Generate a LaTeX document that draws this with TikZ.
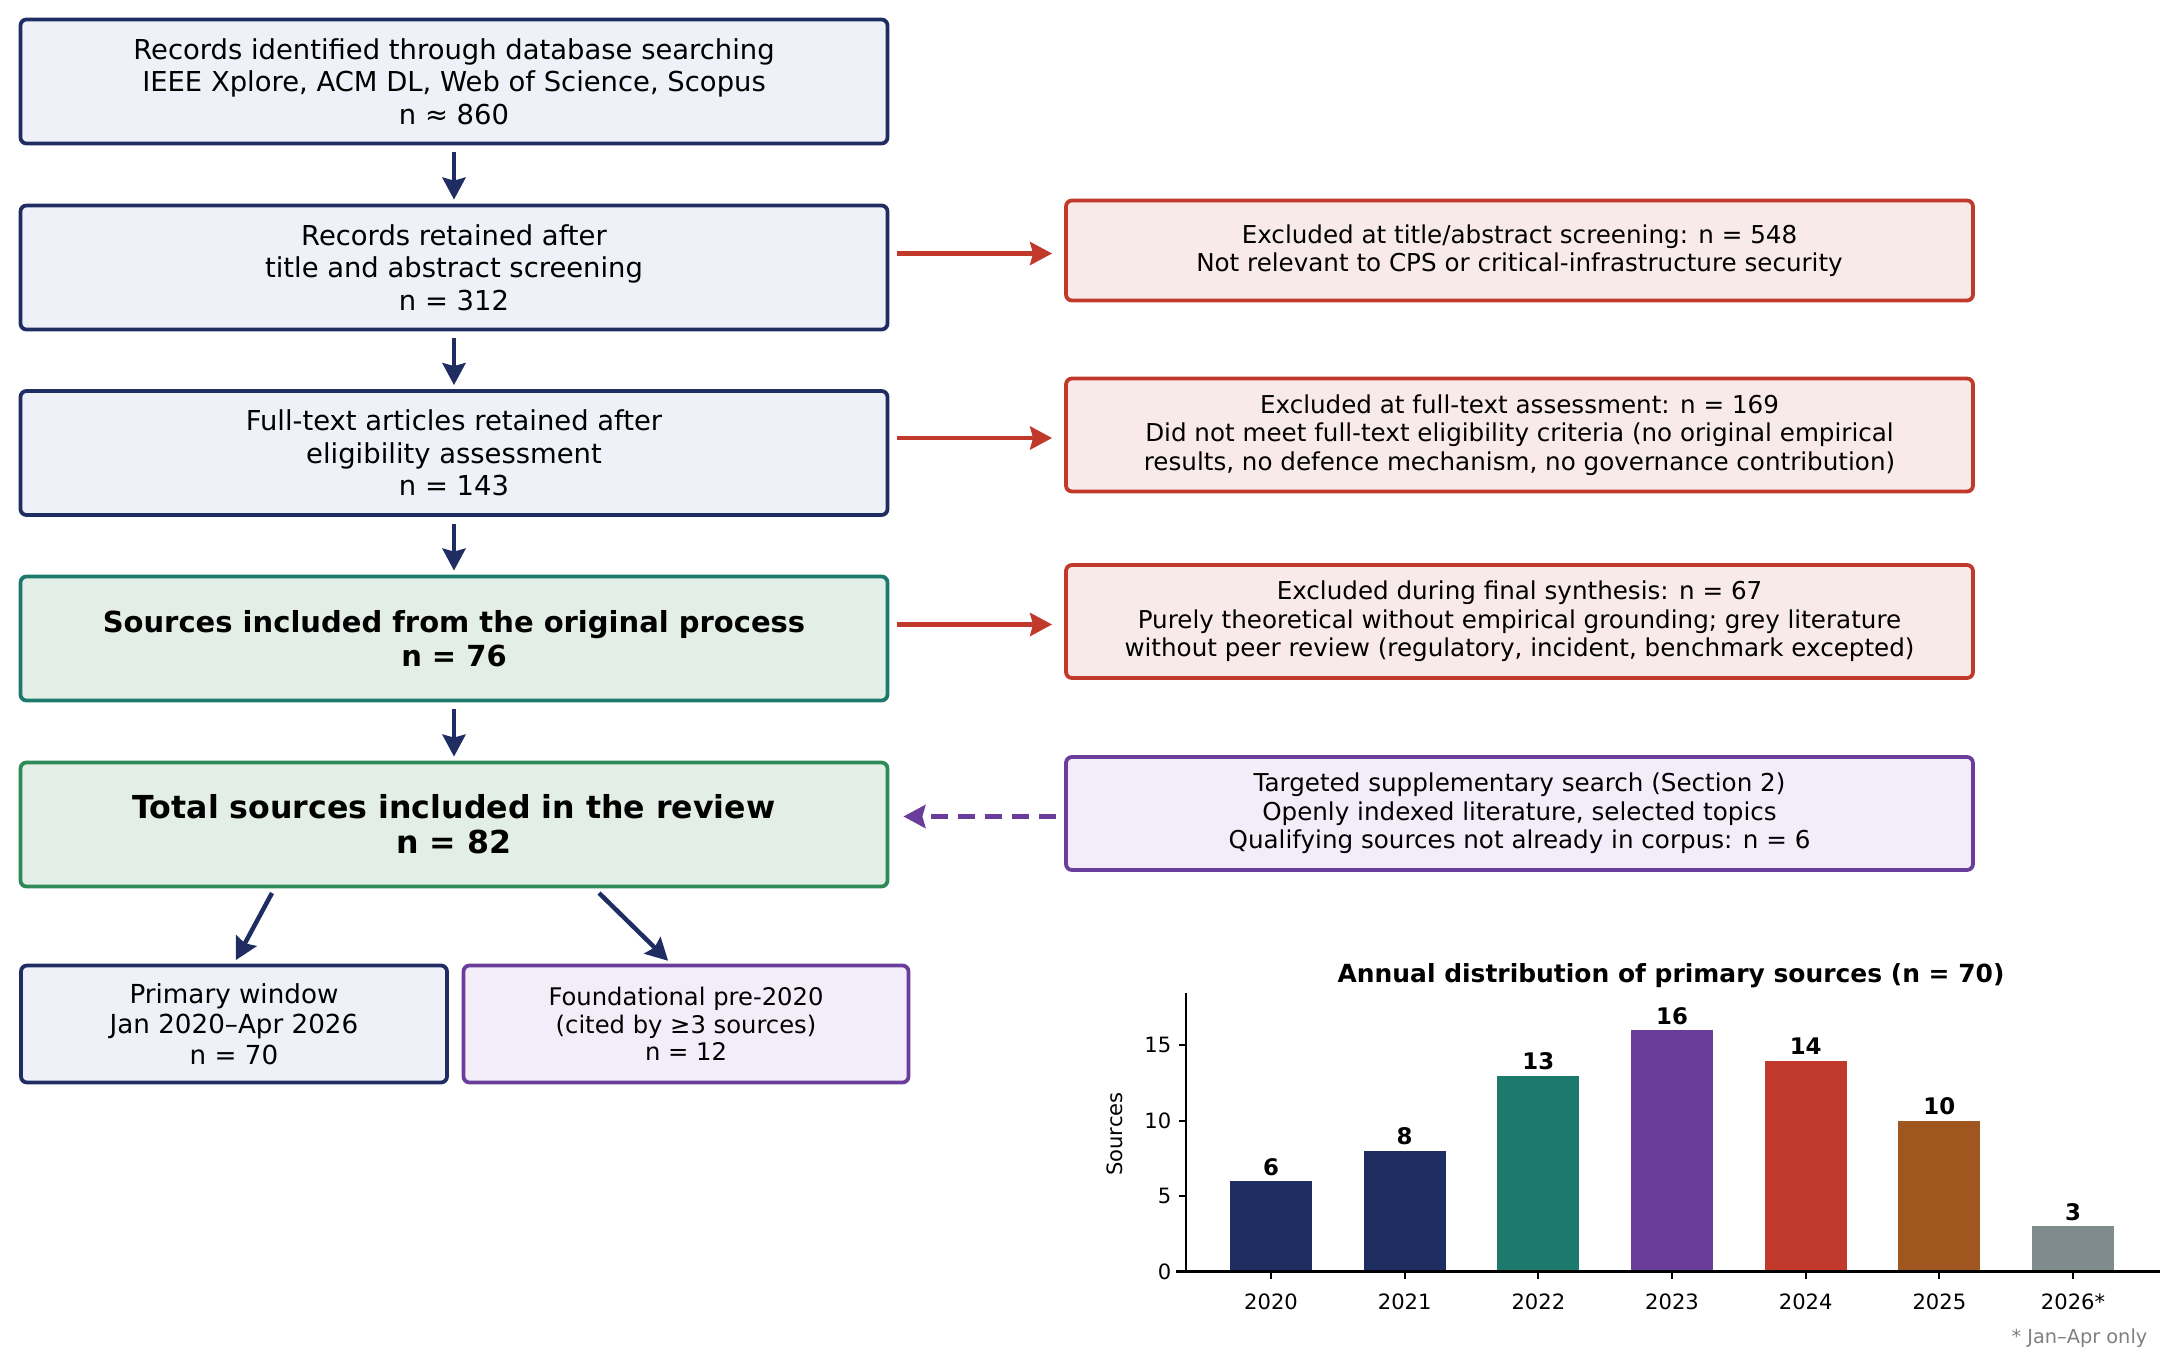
\documentclass[tikz,border=0pt]{standalone}
\usepackage{fontspec}
\setmainfont{DejaVu Sans}
\usetikzlibrary{arrows.meta}

\definecolor{navy}{HTML}{1F2D63}
\definecolor{paleblue}{HTML}{EEF1F8}
\definecolor{tealc}{HTML}{1B7A6B}
\definecolor{greenc}{HTML}{2E8B57}
\definecolor{palegreen}{HTML}{E3EEE6}
\definecolor{redc}{HTML}{C0392B}
\definecolor{palered}{HTML}{F9EAEA}
\definecolor{purplec}{HTML}{6A3D9A}
\definecolor{palepurple}{HTML}{F2EDF8}
\definecolor{brownc}{HTML}{A0561F}
\definecolor{slatec}{HTML}{7F8C8D}

\tikzset{
  basebox/.style={draw, line width=0.38mm, rounded corners=0.6mm, align=center, inner sep=0pt},
  stagebox/.style={basebox, draw=navy, fill=paleblue, minimum width=86.7mm, minimum height=12.4mm,
    font=\fontsize{7.8}{9.2}\selectfont},
  keptbox/.style={stagebox, fill=palegreen},
  exclbox/.style={basebox, draw=redc, fill=palered, minimum width=90.7mm, minimum height=11.3mm,
    font=\fontsize{7}{8.1}\selectfont},
  flowarrow/.style={-{Stealth[length=2.2mm,width=2.3mm,inset=0.3mm]}, navy, line width=0.45mm},
  exclarrow/.style={flowarrow, redc, shorten <=0.8mm, shorten >=1.2mm},
  addarrow/.style={flowarrow, purplec, dash pattern=on 1.7mm off 1mm, shorten <=0.8mm, shorten >=1.4mm},
  ticklabel/.style={font=\fontsize{6}{7}\selectfont, inner sep=0pt},
}

\begin{document}
\begin{tikzpicture}[x=0.1mm, y=-0.1mm]
  \useasboundingbox (0,0) rectangle (2182,1367);

  % main flow
  \node[stagebox] (identified) at (454,81.5) {Records identified through database searching\\IEEE Xplore, ACM DL, Web of Science, Scopus\\n ≈ 860};
  \node[stagebox] (screened) at (454,267.5) {Records retained after\\title and abstract screening\\n = 312};
  \node[stagebox] (eligible) at (454,453) {Full-text articles retained after\\eligibility assessment\\n = 143};
  \node[keptbox, draw=tealc, font=\fontsize{8.25}{9.5}\selectfont\bfseries] (included) at (454,638.5) {Sources included from the original process\\n = 76};
  \node[keptbox, draw=greenc, font=\fontsize{9}{9.9}\selectfont\bfseries] (total) at (454,824.5) {Total sources included in the review\\n = 82};
  \node[stagebox, minimum width=42.6mm, minimum height=11.7mm, font=\fontsize{7.45}{8.7}\selectfont] (primary) at (234,1024) {Primary window\\Jan 2020–Apr 2026\\n = 70};
  \node[stagebox, draw=purplec, fill=palepurple, minimum width=44.5mm, minimum height=11.7mm, font=\fontsize{6.9}{7.9}\selectfont] (foundational) at (686,1024) {Foundational pre-2020\\(cited by ≥3 sources)\\n = 12};

  % exclusions and supplement
  \node[exclbox, minimum height=10mm] (exclTA) at (1519.5,250.5) {Excluded at title/abstract screening: n = 548\\Not relevant to CPS or critical-infrastructure security};
  \node[exclbox] (exclFT) at (1519.5,435) {Excluded at full-text assessment: n = 169\\Did not meet full-text eligibility criteria (no original empirical\\results, no defence mechanism, no governance contribution)};
  \node[exclbox] (exclFS) at (1519.5,621.5) {Excluded during final synthesis: n = 67\\Purely theoretical without empirical grounding; grey literature\\without peer review (regulatory, incident, benchmark excepted)};
  \node[exclbox, draw=purplec, fill=palepurple] (supplement) at (1519.5,813.5) {Targeted supplementary search (Section 2)\\Openly indexed literature, selected topics\\Qualifying sources not already in corpus: n = 6};

  \foreach \a/\b in {identified/screened, screened/eligible, eligible/included, included/total}
    \draw[flowarrow, shorten <=0.7mm, shorten >=0.4mm] (\a) -- (\b);
  \foreach \a/\b in {screened/exclTA, eligible/exclFT, included/exclFS}
    \draw[exclarrow] ([yshift=-0.3mm]\a.east |- \b.west) -- ([yshift=-0.3mm]\b.west);
  \draw[addarrow] ([yshift=-0.3mm]supplement.west) -- ([yshift=-0.3mm]total.east |- supplement.west);

  \coordinate (splitL) at (272,893);
  \coordinate (splitR) at (599,893);
  \draw[flowarrow, shorten >=0.4mm] (splitL) -- (primary.north);
  \draw[flowarrow, shorten >=0.4mm] (splitR) -- ([xshift=-1.5mm]foundational.north);

  % bar chart
  \node[font=\fontsize{7.1}{8}\selectfont\bfseries] (charttitle) at (1671,976) {Annual distribution of primary sources (n = 70)};
  \node[ticklabel, rotate=90] (ylab) at (1115,1134) {Sources};
  \foreach \t in {0,5,10,15} {
    \draw[line width=0.2mm] (1179,{1271.5-15.07*\t}) -- (1186,{1271.5-15.07*\t});
    \node[ticklabel, anchor=east] (ytick\t) at (1172,{1271.5-15.07*\t}) {\t};
  }
  \foreach \i/\v/\c/\yr in {0/6/navy/2020, 1/8/navy/2021, 2/13/tealc/2022, 3/16/purplec/2023,
                            4/14/redc/2024, 5/10/brownc/2025, 6/3/slatec/2026*} {
    \fill[\c] ({1271+133.67*\i-41},1271.5) rectangle ({1271+133.67*\i+41},{1271.5-15.07*\v});
    \node[font=\fontsize{6.5}{7}\selectfont\bfseries, anchor=south, inner sep=0pt] (val\i) at ({1271+133.67*\i},{1271.5-15.07*\v-5}) {\v};
    \draw[line width=0.2mm] ({1271+133.67*\i},1271.5) -- ({1271+133.67*\i},1278.5);
    \node[ticklabel] (year\i) at ({1271+133.67*\i},1302) {\yr};
  }
  \draw[line width=0.24mm] (1186,993) -- (1186,1271.5);
  \draw[line width=0.24mm] (1176,1271.5) -- (2160,1271.5);
  \node[font=\fontsize{5.5}{6}\selectfont, text=gray, anchor=east, inner sep=0pt] (footnote) at (2148,1338) {* Jan–Apr only};
\end{tikzpicture}
\end{document}
